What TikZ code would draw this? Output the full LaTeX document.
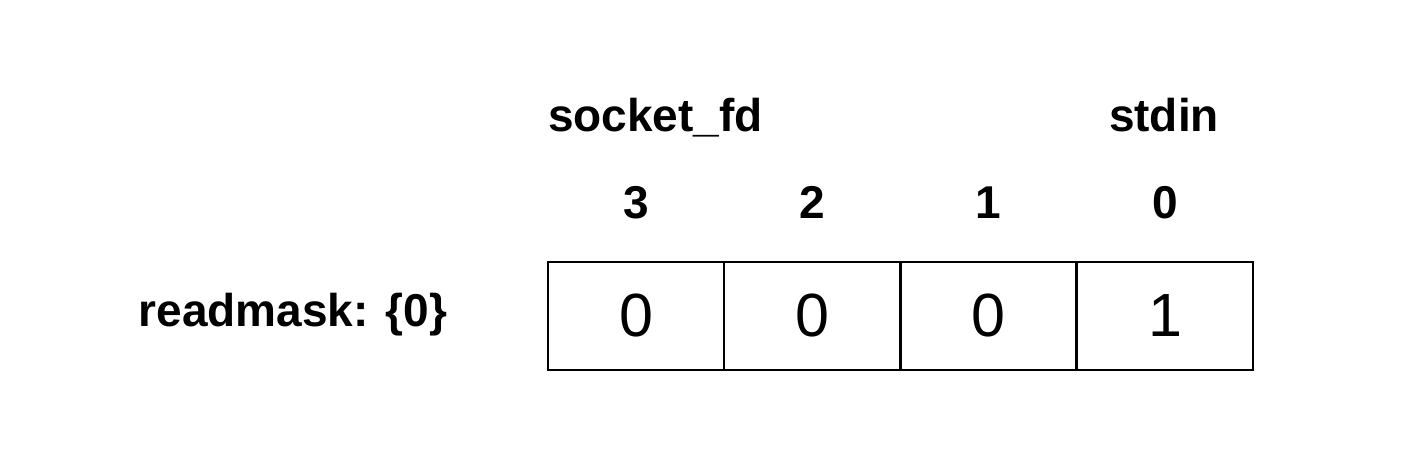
\documentclass[tikz,border=0pt]{standalone}
\usepackage{fontspec}
\setmainfont{Liberation Sans}
\usetikzlibrary{positioning}

\begin{document}
\begin{tikzpicture}[x=0.5pt,y=-0.5pt,
    bitcell/.style={draw,line width=1.4pt,minimum width=88pt,minimum height=54pt,inner sep=0pt,
      font=\fontsize{30.5}{34}\selectfont},
    bitlabel/.style={anchor=base,inner sep=0pt,font=\fontsize{23}{27}\selectfont\bfseries}]
    \useasboundingbox (0,0) rectangle (1426,453);

    % 位图的四个格子
    \foreach \i/\x/\v in {3/636/0,2/812/0,1/988.5/0,0/1165/1}
    {
      \node[bitcell] (cell\i) at (\x,316) {\v};
      \node[bitlabel] (idx\i) at (\x,219) {\i};
    }

    % 说明文字
    \node[bitlabel] (sockfd) at (655.5,132) {socket\_fd};
    \node[bitlabel] (stdin) at (1164,132) {stdin};
    \node[bitlabel] (mask) at (293,327) {readmask: \{0\}};
\end{tikzpicture}
\end{document}
